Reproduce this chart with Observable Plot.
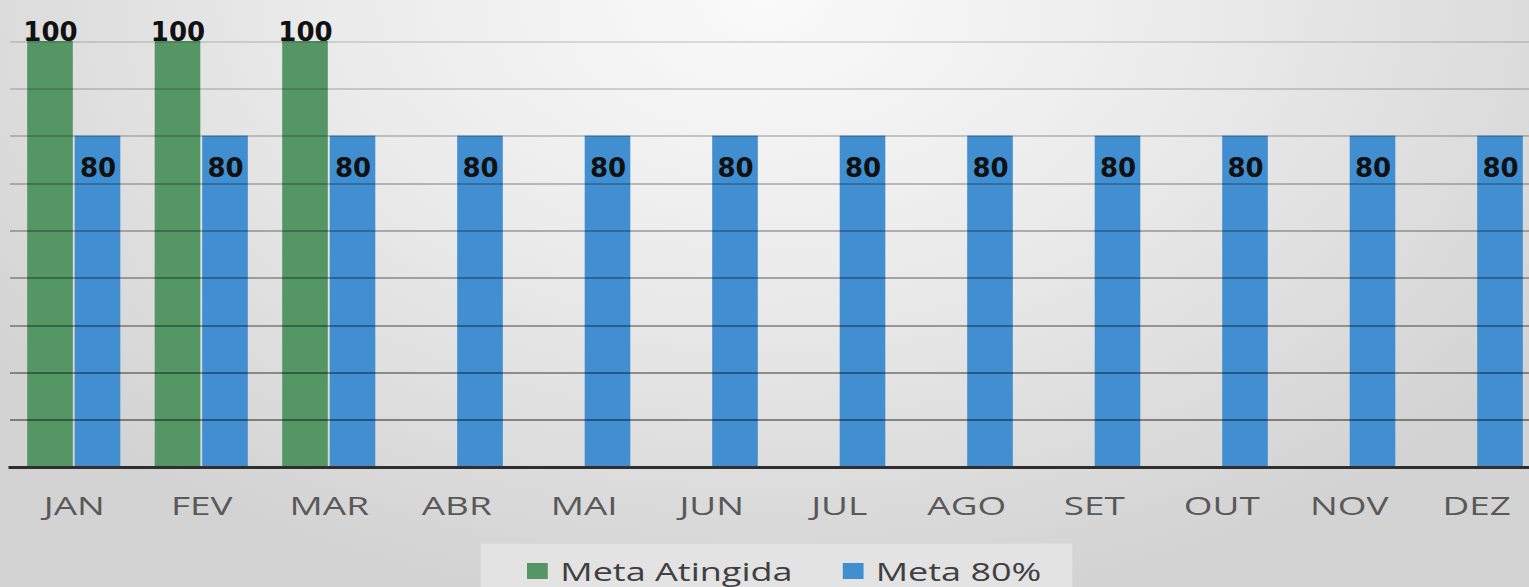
<!DOCTYPE html>
<html>
<head>
<meta charset="utf-8">
<script src="https://cdn.jsdelivr.net/npm/d3@7"></script>
<script src="https://cdn.jsdelivr.net/npm/@observablehq/plot@0.6"></script>
<style>
html, body { margin: 0; padding: 0; width: 1529px; height: 587px; overflow: hidden; }
body {
  position: relative;
  background: radial-gradient(ellipse 62% 105% at 50% 0%, #fafafa 0%, #ebebeb 45%, #d3d3d3 100%);
  font-family: "Open Sans", sans-serif;
}
#chart { position: absolute; left: 0; top: 0; width: 1529px; height: 540px; overflow: hidden; }
#legend {
  position: absolute; left: 480px; top: 543px; width: 593px; height: 60px;
  background: #e3e3e3; border: 1px solid #d9d9d9; box-sizing: border-box;
}
#legend .inner {
  position: absolute; left: 46px; top: 9px;
  display: flex; align-items: center; white-space: nowrap;
  font-size: 26px; color: #404040;
  transform: scaleX(1.385); transform-origin: left center;
}
#legend .sw { display: inline-block; width: 15px; height: 16px; margin-right: 9px; }
#legend .item { display: flex; align-items: center; }
#legend .item + .item { margin-left: 36px; }
</style>
</head>
<body>
<div id="chart"></div>
<div id="legend"><div class="inner"></div></div>
<script>
// ---- data ----
const months = ["JAN", "FEV", "MAR", "ABR", "MAI", "JUN", "JUL", "AGO", "SET", "OUT", "NOV", "DEZ"];
const seriesNames = ["Meta Atingida", "Meta 80%"];
const metaAtingida = [100, 100, 100, null, null, null, null, null, null, null, null, null];
const meta80 = [80, 80, 80, 80, 80, 80, 80, 80, 80, 80, 80, 80];
const yTicks = [20, 30, 40, 50, 60, 70, 80, 90, 100];
const axisMin = 10;
const colors = ["#549664", "#418fd0"];

const table = [];
months.forEach((m, i) => {
  if (metaAtingida[i] != null) table.push({month: m, series: seriesNames[0], value: metaAtingida[i]});
  if (meta80[i] != null) table.push({month: m, series: seriesNames[1], value: meta80[i]});
});

const svg = Plot.plot({
  width: 1540,
  height: 540,
  marginLeft: 10,
  marginRight: 0,
  marginTop: 41,
  marginBottom: 73,
  style: {background: "transparent", maxWidth: "none", fontFamily: "'Open Sans', sans-serif", fontSize: "26px", color: "#595959"},
  fx: {domain: months, padding: 0, round: false, label: null, axis: "bottom", tickSize: 0, tickPadding: 29},
  x: {domain: seriesNames, paddingInner: 0.04, paddingOuter: 0.362, round: false, axis: null},
  y: {domain: [axisMin, 100], axis: null},
  color: {domain: seriesNames, range: colors},
  marks: [
    Plot.barY(table, {fx: "month", x: "series", y: "value", fill: "series", clip: true}),
    Plot.ruleY(yTicks, {stroke: "url(#gridGrad)", strokeWidth: 2, shapeRendering: "crispEdges"}),
    Plot.ruleY([axisMin], {stroke: "#2f2f2f", strokeWidth: 3, strokeLinecap: "square"}),
    Plot.text(table.filter(d => d.series === seriesNames[0]), {
      fx: "month", x: "series", y: "value", text: d => String(d.value),
      dy: -9, lineAnchor: "middle", fontFamily: "'DejaVu Sans', sans-serif", fontWeight: "bold",
      fontSize: 26, fill: "#111", ariaLabel: "valores"
    }),
    Plot.text(table.filter(d => d.series === seriesNames[1]), {
      fx: "month", x: "series", y: "value", text: d => String(d.value),
      dy: 33, lineAnchor: "middle", fontFamily: "'DejaVu Sans', sans-serif", fontWeight: "bold",
      fontSize: 26, fill: "#111", ariaLabel: "valores"
    })
  ]
});

// gradient for gridlines (lighter at the top, darker near the baseline)
d3.select(svg).insert("defs", ":first-child").html(
  '<linearGradient id="gridGrad" gradientUnits="userSpaceOnUse" x1="0" y1="41" x2="0" y2="467">' +
  '<stop offset="0" stop-color="#000" stop-opacity="0.12"/>' +
  '<stop offset="1" stop-color="#000" stop-opacity="0.45"/>' +
  '</linearGradient>');

document.getElementById("chart").appendChild(svg);

// widen text horizontally, like the stretched original
function stretch(sel, k) {
  d3.select(svg).selectAll(sel).each(function () {
    const t = d3.select(this);
    const x = +(t.attr("x") || 0), y = +(t.attr("y") || 0);
    let tr = t.attr("transform") || "";
    if (x || y) { tr = `translate(${x},${y}) ` + tr; t.attr("x", null).attr("y", null); }
    t.attr("transform", tr + ` scale(${k},1)`);
  });
}
stretch('g[aria-label="fx-axis tick label"] text', 1.42);
stretch('g[aria-label="valores"] text', 1.2);

// legend
const inner = d3.select("#legend .inner");
seriesNames.forEach((s, i) => {
  const it = inner.append("div").attr("class", "item");
  it.append("span").attr("class", "sw").style("background", colors[i]);
  it.append("span").text(s);
});
</script>
</body>
</html>
